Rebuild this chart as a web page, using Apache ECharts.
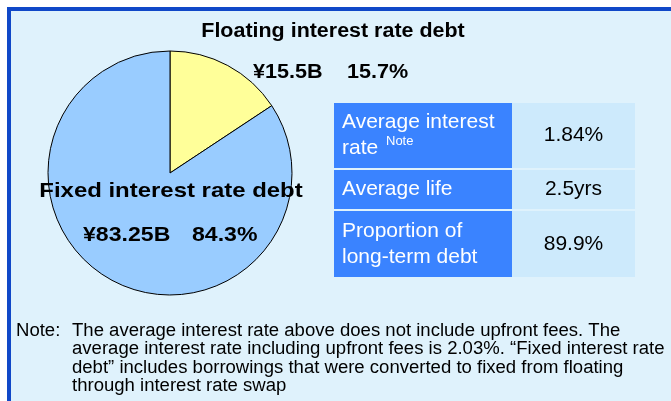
<!DOCTYPE html>
<html>
<head>
<meta charset="utf-8">
<script src="https://cdn.jsdelivr.net/npm/echarts@6/dist/echarts.min.js"></script>
<style>
  html, body { margin: 0; padding: 0; background: #fff; }
  #chart { width: 671px; height: 401px; }
</style>
</head>
<body>
<div id="chart"></div>
<script>
// debt split (billion yen)
const debtNames = ['Floating interest rate debt', 'Fixed interest rate debt']
const debtValues = [15.5, 83.25]
const debtShares = ['15.7%', '84.3%']
const debtColors = ['#ffff99', '#99ccff']

// summary table
const rowLabels = [['Average interest', 'rate '], ['Average life'], ['Proportion of', 'long-term debt']]
const rowValues = ['1.84%', '2.5yrs', '89.9%']

const noteLines = [
  'The average interest rate above does not include upfront fees. The',
  'average interest rate including upfront fees is 2.03%. \u201cFixed interest rate',
  'debt\u201d includes borrowings that were converted to fixed from floating',
  'through interest rate swap'
]

const font = 'Arial, "Liberation Sans", sans-serif'
const chart = echarts.init(document.getElementById('chart'))

// text helper, sx = horizontal stretch
function txt(x, y, text, size, opt) {
  opt = opt || {}
  return {
    type: 'text', x: x, y: y, z: 10, scaleX: opt.sx || 1,
    style: {
      x: 0, y: 0, text: text, fill: opt.color || '#000',
      font: (opt.bold ? 'bold ' : '') + size + 'px ' + font,
      textAlign: opt.align || 'left', textVerticalAlign: 'middle'
    }
  }
}

// table geometry
const tx = 334, colW = [178, 123]
const rowY = [103, 170, 211], rowH = [65, 39, 66]
const tableEls = []
rowY.forEach((y, i) => {
  tableEls.push({ type: 'rect', shape: { x: tx, y: y, width: colW[0], height: rowH[i] }, style: { fill: '#3a83ff' } })
  tableEls.push({ type: 'rect', shape: { x: tx + colW[0], y: y, width: colW[1], height: rowH[i] }, style: { fill: '#cdeafc' } })
  const lines = rowLabels[i]
  const lh = 26
  const y0 = y + rowH[i] / 2 - (lines.length - 1) * lh / 2
  lines.forEach((t, j) => {
    tableEls.push(txt(tx + 8, y0 + j * lh, t, 21, { color: '#fff' }))
  })
  if (i === 0) tableEls.push(txt(tx + 52, y0 + lh - 7, 'Note', 13, { color: '#fff' }))
  tableEls.push(txt(tx + colW[0] + colW[1] / 2, y + rowH[i] / 2, rowValues[i], 21, { align: 'center' }))
})

const noteEls = [txt(16, 331, 'Note:', 18, { sx: 1.03 })]
noteLines.forEach((t, i) => {
  noteEls.push(txt(72, 331 + i * 18.3, t, 18, { sx: 1.03 }))
})

chart.setOption({
  animation: false,
  backgroundColor: '#ffffff',
  graphic: [
    { type: 'rect', z: -10, shape: { x: 9, y: 9, width: 700, height: 420 }, style: { fill: '#dff2fc', stroke: '#1048c8', lineWidth: 4 } },
    txt(333, 32, debtNames[0], 19.5, { bold: true, align: 'center', sx: 1.1 }),
    txt(253, 72, '\u00a5' + debtValues[0] + 'B', 20, { bold: true, sx: 1.08 }),
    txt(347, 72, debtShares[0], 20, { bold: true, sx: 1.08 }),
    txt(171, 191, debtNames[1], 21, { bold: true, align: 'center', sx: 1.14 }),
    txt(83, 235, '\u00a5' + debtValues[1] + 'B', 21, { bold: true, sx: 1.1 }),
    txt(192, 235, debtShares[1], 21, { bold: true, sx: 1.1 }),
    ...tableEls,
    ...noteEls
  ],
  series: [{
    type: 'pie',
    center: [170, 173],
    radius: 122,
    startAngle: 90,
    clockwise: true,
    label: { show: false },
    labelLine: { show: false },
    emphasis: { disabled: true },
    itemStyle: { borderColor: '#000', borderWidth: 1 },
    data: debtNames.map((n, i) => ({ name: n, value: debtValues[i], itemStyle: { color: debtColors[i] } }))
  }]
})
</script>
</body>
</html>
